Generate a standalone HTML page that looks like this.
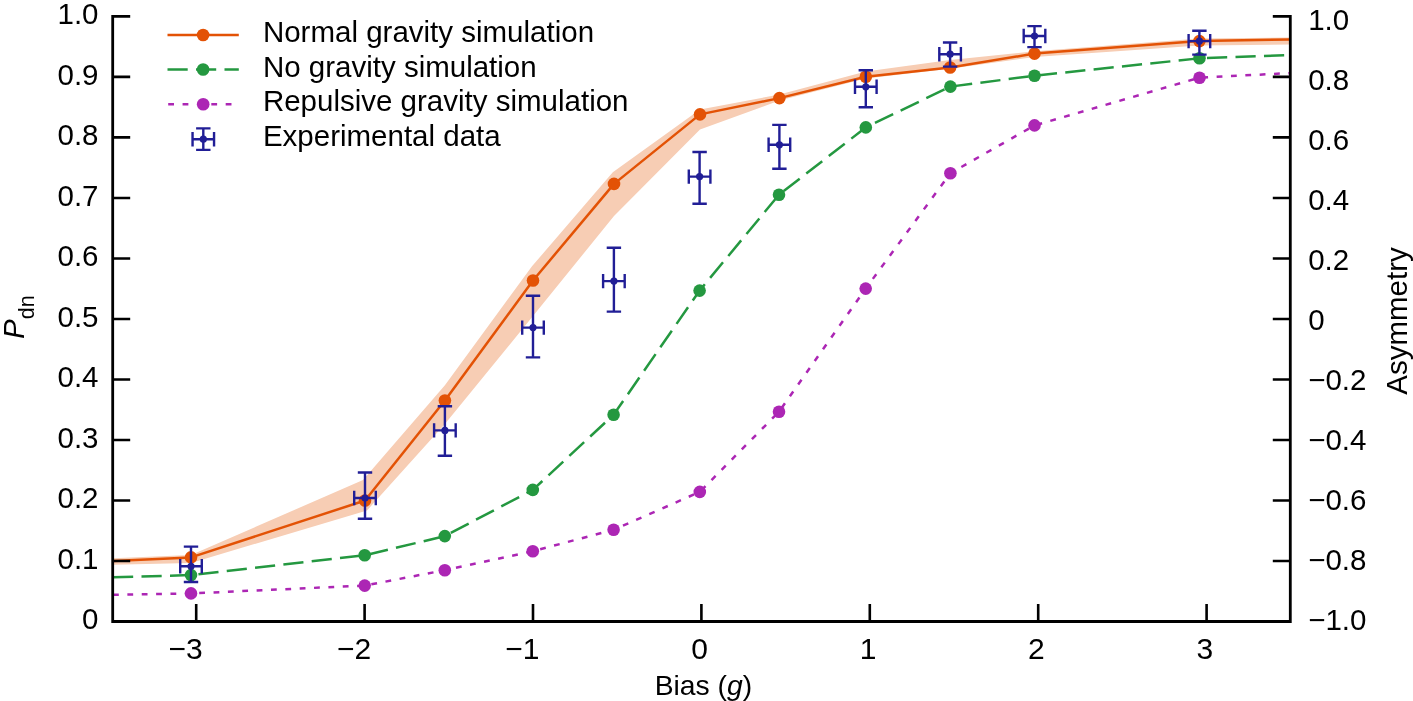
<!DOCTYPE html>
<html><head><meta charset="utf-8"><style>
html,body{margin:0;padding:0;background:#fff;width:1413px;height:701px;overflow:hidden}
svg{display:block;will-change:transform}
</style></head><body>
<svg width="1413" height="701" viewBox="0 0 1413 701"><defs><clipPath id="c"><rect x="113" y="0" width="1177" height="621"/></clipPath></defs><polygon clip-path="url(#c)" points="113,558.2 191,555 363,480 444.9,385.2 532,266.3 612.8,172.3 700,109.5 779.4,94.5 865.8,71.5 950,60 1034.5,51.3 1199.4,38.5 1290,37.5 1290,44.5 1199.4,45.5 1034.5,57 950,68.8 865.8,78.5 779.4,100.5 700,129.6 614,216 533,316 444.9,424 367,510.5 191,563 113,564.8" fill="#F7CDB4"/><polyline clip-path="url(#c)" points="113,561 191,557.4 365,500.5 444.9,400.5 533,280.5 614,183.9 700,114.4 779.4,98.1 865.8,76.7 950.1,67.5 1034.5,53.6 1199.4,41.1 1290,39.4" fill="none" stroke="#E35205" stroke-width="2.5" stroke-linejoin="round"/><polyline clip-path="url(#c)" points="113,577.3 191,575.1 364.7,555.3 444.8,536.1 532.8,489.9 613.6,414.8 699.6,290.6 779,194.7 865.8,127.4 950.4,86.6 1034.5,75.7 1199.5,58.3 1290,55" fill="none" stroke="#249840" stroke-width="2.5" stroke-dasharray="20.2 8.3"/><polyline clip-path="url(#c)" points="113,594.8 191,593.4 364.7,585.6 444.8,570.2 532.8,551.2 613.6,529.8 699.8,491.9 779,411.7 865.7,288.6 950.4,173.2 1034.5,125.4 1199.5,77.7 1290,73.1" fill="none" stroke="#AC26B4" stroke-width="2.5" stroke-dasharray="5.8 8.57"/><circle cx="191" cy="557.4" r="6.3" fill="#E35205"/><circle cx="365" cy="500.5" r="6.3" fill="#E35205"/><circle cx="444.9" cy="400.5" r="6.3" fill="#E35205"/><circle cx="533" cy="280.5" r="6.3" fill="#E35205"/><circle cx="614" cy="183.9" r="6.3" fill="#E35205"/><circle cx="700" cy="114.4" r="6.3" fill="#E35205"/><circle cx="779.4" cy="98.1" r="6.3" fill="#E35205"/><circle cx="865.8" cy="76.7" r="6.3" fill="#E35205"/><circle cx="950.1" cy="67.5" r="6.3" fill="#E35205"/><circle cx="1034.5" cy="53.6" r="6.3" fill="#E35205"/><circle cx="1199.4" cy="41.1" r="6.3" fill="#E35205"/><circle cx="191" cy="575.1" r="6.3" fill="#249840"/><circle cx="364.7" cy="555.3" r="6.3" fill="#249840"/><circle cx="444.8" cy="536.1" r="6.3" fill="#249840"/><circle cx="532.8" cy="489.9" r="6.3" fill="#249840"/><circle cx="613.6" cy="414.8" r="6.3" fill="#249840"/><circle cx="699.6" cy="290.6" r="6.3" fill="#249840"/><circle cx="779" cy="194.7" r="6.3" fill="#249840"/><circle cx="865.8" cy="127.4" r="6.3" fill="#249840"/><circle cx="950.4" cy="86.6" r="6.3" fill="#249840"/><circle cx="1034.5" cy="75.7" r="6.3" fill="#249840"/><circle cx="1199.5" cy="58.3" r="6.3" fill="#249840"/><circle cx="191" cy="593.4" r="6.3" fill="#AC26B4"/><circle cx="364.7" cy="585.6" r="6.3" fill="#AC26B4"/><circle cx="444.8" cy="570.2" r="6.3" fill="#AC26B4"/><circle cx="532.8" cy="551.2" r="6.3" fill="#AC26B4"/><circle cx="613.6" cy="529.8" r="6.3" fill="#AC26B4"/><circle cx="699.8" cy="491.9" r="6.3" fill="#AC26B4"/><circle cx="779" cy="411.7" r="6.3" fill="#AC26B4"/><circle cx="865.7" cy="288.6" r="6.3" fill="#AC26B4"/><circle cx="950.4" cy="173.2" r="6.3" fill="#AC26B4"/><circle cx="1034.5" cy="125.4" r="6.3" fill="#AC26B4"/><circle cx="1199.5" cy="77.7" r="6.3" fill="#AC26B4"/><path d="M191,546.6V582M180.2,566.3H201.8M183.8,546.6H198.2M183.8,582H198.2M180.2,559.0999999999999V573.5M201.8,559.0999999999999V573.5" stroke="#211E96" stroke-width="2.4" fill="none"/><circle cx="191" cy="566.3" r="3.6" fill="#211E96"/><path d="M365,472.5V518.8M354.2,498H375.8M357.8,472.5H372.2M357.8,518.8H372.2M354.2,490.8V505.2M375.8,490.8V505.2" stroke="#211E96" stroke-width="2.4" fill="none"/><circle cx="365" cy="498" r="3.6" fill="#211E96"/><path d="M444.9,406.3V455.7M434.09999999999997,430.4H455.7M437.7,406.3H452.09999999999997M437.7,455.7H452.09999999999997M434.09999999999997,423.2V437.59999999999997M455.7,423.2V437.59999999999997" stroke="#211E96" stroke-width="2.4" fill="none"/><circle cx="444.9" cy="430.4" r="3.6" fill="#211E96"/><path d="M533,295.7V357.4M522.2,327.6H543.8M525.8,295.7H540.2M525.8,357.4H540.2M522.2,320.40000000000003V334.8M543.8,320.40000000000003V334.8" stroke="#211E96" stroke-width="2.4" fill="none"/><circle cx="533" cy="327.6" r="3.6" fill="#211E96"/><path d="M613.9,247.8V311.6M603.1,281.1H624.6999999999999M606.6999999999999,247.8H621.1M606.6999999999999,311.6H621.1M603.1,273.90000000000003V288.3M624.6999999999999,273.90000000000003V288.3" stroke="#211E96" stroke-width="2.4" fill="none"/><circle cx="613.9" cy="281.1" r="3.6" fill="#211E96"/><path d="M699.6,152V203.8M688.8000000000001,176.6H710.4M692.4,152H706.8000000000001M692.4,203.8H706.8000000000001M688.8000000000001,169.4V183.79999999999998M710.4,169.4V183.79999999999998" stroke="#211E96" stroke-width="2.4" fill="none"/><circle cx="699.6" cy="176.6" r="3.6" fill="#211E96"/><path d="M779.4,124.9V168.7M768.6,144.8H790.1999999999999M772.1999999999999,124.9H786.6M772.1999999999999,168.7H786.6M768.6,137.60000000000002V152.0M790.1999999999999,137.60000000000002V152.0" stroke="#211E96" stroke-width="2.4" fill="none"/><circle cx="779.4" cy="144.8" r="3.6" fill="#211E96"/><path d="M865.8,70.3V107.3M855.0,86.8H876.5999999999999M858.5999999999999,70.3H873.0M858.5999999999999,107.3H873.0M855.0,79.6V94.0M876.5999999999999,79.6V94.0" stroke="#211E96" stroke-width="2.4" fill="none"/><circle cx="865.8" cy="86.8" r="3.6" fill="#211E96"/><path d="M950.1,42.5V66.6M939.3000000000001,54.2H960.9M942.9,42.5H957.3000000000001M942.9,66.6H957.3000000000001M939.3000000000001,47.0V61.400000000000006M960.9,47.0V61.400000000000006" stroke="#211E96" stroke-width="2.4" fill="none"/><circle cx="950.1" cy="54.2" r="3.6" fill="#211E96"/><path d="M1034.5,26.1V47.1M1023.7,36H1045.3M1027.3,26.1H1041.7M1027.3,47.1H1041.7M1023.7,28.8V43.2M1045.3,28.8V43.2" stroke="#211E96" stroke-width="2.4" fill="none"/><circle cx="1034.5" cy="36" r="3.6" fill="#211E96"/><path d="M1199.4,30.8V54.6M1188.6000000000001,41.1H1210.2M1192.2,30.8H1206.6000000000001M1192.2,54.6H1206.6000000000001M1188.6000000000001,33.9V48.300000000000004M1210.2,33.9V48.300000000000004" stroke="#211E96" stroke-width="2.4" fill="none"/><circle cx="1199.4" cy="41.1" r="3.6" fill="#211E96"/><path d="M112.7,16.4V621.5H1290.3V16.4" fill="none" stroke="#000" stroke-width="2.8" stroke-linejoin="miter" stroke-linecap="square"/><path d="M112.7,621.50h17.5M1290.3,621.50h-17.5M112.7,560.99h17.5M1290.3,560.99h-17.5M112.7,500.48h17.5M1290.3,500.48h-17.5M112.7,439.97h17.5M1290.3,439.97h-17.5M112.7,379.46h17.5M1290.3,379.46h-17.5M112.7,318.95h17.5M1290.3,318.95h-17.5M112.7,258.44h17.5M1290.3,258.44h-17.5M112.7,197.93h17.5M1290.3,197.93h-17.5M112.7,137.42h17.5M1290.3,137.42h-17.5M112.7,76.91h17.5M1290.3,76.91h-17.5M112.7,16.40h17.5M1290.3,16.40h-17.5M196.20,621.5v-17.5M364.60,621.5v-17.5M533.00,621.5v-17.5M701.40,621.5v-17.5M869.80,621.5v-17.5M1038.20,621.5v-17.5M1206.60,621.5v-17.5" stroke="#000" stroke-width="2.6" fill="none"/><g font-family='"Liberation Sans", sans-serif' font-size="29.5" fill="#000"><text x="98.5" y="629.4" text-anchor="end">0</text><text x="98.5" y="568.9" text-anchor="end">0.1</text><text x="98.5" y="508.4" text-anchor="end">0.2</text><text x="98.5" y="447.9" text-anchor="end">0.3</text><text x="98.5" y="387.4" text-anchor="end">0.4</text><text x="98.5" y="326.8" text-anchor="end">0.5</text><text x="98.5" y="266.3" text-anchor="end">0.6</text><text x="98.5" y="205.8" text-anchor="end">0.7</text><text x="98.5" y="145.3" text-anchor="end">0.8</text><text x="98.5" y="84.8" text-anchor="end">0.9</text><text x="98.5" y="24.3" text-anchor="end">1.0</text><text x="1308.2" y="629.7">−1.0</text><text x="1308.2" y="569.7">−0.8</text><text x="1308.2" y="509.7">−0.6</text><text x="1308.2" y="449.6">−0.4</text><text x="1308.2" y="389.6">−0.2</text><text x="1308.2" y="329.6">0</text><text x="1308.2" y="269.6">0.2</text><text x="1308.2" y="209.6">0.4</text><text x="1308.2" y="149.5">0.6</text><text x="1308.2" y="89.5">0.8</text><text x="1308.2" y="29.5">1.0</text><text x="202.7" y="659.3" text-anchor="end" font-size="30">−3</text><text x="371.1" y="659.3" text-anchor="end" font-size="30">−2</text><text x="539.5" y="659.3" text-anchor="end" font-size="30">−1</text><text x="699.6" y="659.3" text-anchor="middle" font-size="30">0</text><text x="868.0" y="659.3" text-anchor="middle" font-size="30">1</text><text x="1036.4" y="659.3" text-anchor="middle" font-size="30">2</text><text x="1204.8" y="659.3" text-anchor="middle" font-size="30">3</text><text x="703.4" y="694.9" text-anchor="middle" font-size="28.3">Bias (<tspan font-style="italic">g</tspan>)</text><text transform="translate(24,339) rotate(-90)"><tspan font-style="italic">P</tspan><tspan font-size="21.5" dy="10">dn</tspan></text><text transform="translate(1407,321) rotate(-90)" text-anchor="middle">Asymmetry</text><text x="262.9" y="42.2" font-size="29.5">Normal gravity simulation</text><text x="262.9" y="76.6" font-size="29.5">No gravity simulation</text><text x="262.9" y="111.1" font-size="29.5">Repulsive gravity simulation</text><text x="262.9" y="145.6" font-size="29.5">Experimental data</text></g><path d="M167.5,35H238.8" stroke="#E35205" stroke-width="2.5"/><circle cx="203.1" cy="35" r="6.3" fill="#E35205"/><path d="M167.5,69.5H238.8" stroke="#249840" stroke-width="2.5" stroke-dasharray="20.2 8.3"/><circle cx="203.1" cy="69.5" r="6.3" fill="#249840"/><path d="M168.2,104.2H238.8" stroke="#AC26B4" stroke-width="2.5" stroke-dasharray="5.8 8.57"/><circle cx="203.2" cy="104.2" r="6.3" fill="#AC26B4"/><path d="M203.3,128.4V149.9M192.55,139.2H214.05M196.10000000000002,128.4H210.5M196.10000000000002,149.9H210.5M192.55,132.0V146.39999999999998M214.05,132.0V146.39999999999998" stroke="#211E96" stroke-width="2.4" fill="none"/><circle cx="203.3" cy="139.2" r="3.6" fill="#211E96"/></svg>
</body></html>
